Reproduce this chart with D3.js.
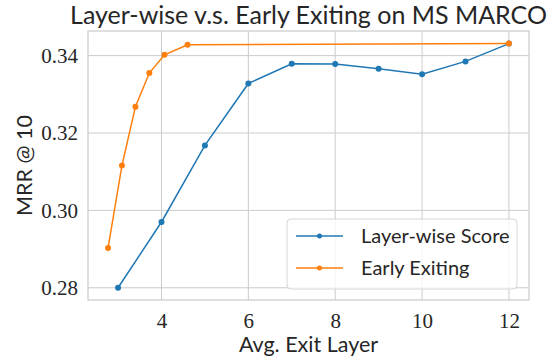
<!DOCTYPE html>
<html>
<head>
<meta charset="utf-8">
<script src="https://cdn.jsdelivr.net/npm/d3@7"></script>
<style>
  body { margin: 0; background: #fff; }
  svg { display: block; }
</style>
</head>
<body>
<div id="chart"></div>
<script>
// values
const layerX = [3, 4, 5, 6, 7, 8, 9, 10, 11, 12];
const layerY = [0.2800, 0.2970, 0.3168, 0.3328, 0.3379, 0.3378, 0.3366, 0.3352, 0.3385, 0.3431];
const exitX = [2.77, 3.09, 3.40, 3.72, 4.07, 4.60, 12.0];
const exitY = [0.2903, 0.3116, 0.3268, 0.3355, 0.3402, 0.3428, 0.3431];
const seriesNames = ['Layer-wise Score', 'Early Exiting'];
const xTicks = [4, 6, 8, 10, 12];
const yTicks = [0.28, 0.30, 0.32, 0.34];

const width = 559, height = 360;
const m = { left: 88, right: 30, top: 31, bottom: 60 };
const colors = ['#1f77b4', '#ff7f0e'];
const sans = 'Lato, "Open Sans", sans-serif';
const serif = '"Liberation Serif", "DejaVu Serif", serif';
const ink = '#262626';

const svg = d3.select('#chart').append('svg')
    .attr('width', width).attr('height', height);

const x = d3.scaleLinear().domain([2.308, 12.462]).range([m.left, width - m.right]);
const y = d3.scaleLinear().domain([0.27684, 0.34636]).range([height - m.bottom, m.top]);

// grid
const g = svg.append('g');
g.selectAll('.vx').data(xTicks).join('line')
    .attr('x1', d => x(d)).attr('x2', d => x(d))
    .attr('y1', m.top).attr('y2', height - m.bottom)
    .attr('stroke', '#cccccc').attr('stroke-width', 1);
g.selectAll('.hy').data(yTicks).join('line')
    .attr('x1', m.left).attr('x2', width - m.right)
    .attr('y1', d => y(d)).attr('y2', d => y(d))
    .attr('stroke', '#cccccc').attr('stroke-width', 1);

// frame
svg.append('rect')
    .attr('x', m.left).attr('y', m.top)
    .attr('width', width - m.left - m.right).attr('height', height - m.top - m.bottom)
    .attr('fill', 'none').attr('stroke', '#cccccc').attr('stroke-width', 1.25);

// tick labels
const xAxis = d3.axisBottom(x).tickValues(xTicks).tickSize(0).tickPadding(13).tickFormat(d3.format('d'));
const gx = svg.append('g').attr('transform', `translate(0,${height - m.bottom})`).call(xAxis);
gx.select('.domain').remove();
gx.attr('font-family', null).attr('font-size', null);
gx.selectAll('text').style('font-family', serif).style('font-size', '21px').style('fill', ink);

const yAxis = d3.axisLeft(y).tickValues(yTicks).tickSize(0).tickPadding(10).tickFormat(d3.format('.2f'));
const gy = svg.append('g').attr('transform', `translate(${m.left},0)`).call(yAxis);
gy.select('.domain').remove();
gy.attr('font-family', null).attr('font-size', null);
gy.selectAll('text').style('font-family', serif).style('font-size', '21px').style('fill', ink);

// lines
const series = [
  layerX.map((d, i) => [d, layerY[i]]),
  exitX.map((d, i) => [d, exitY[i]])
];
const line = d3.line().x(d => x(d[0])).y(d => y(d[1]));
series.forEach((s, i) => {
  svg.append('path').datum(s)
      .attr('d', line).attr('fill', 'none')
      .attr('stroke', colors[i]).attr('stroke-width', 1.5);
  svg.append('g').selectAll('circle').data(s).join('circle')
      .attr('cx', d => x(d[0])).attr('cy', d => y(d[1])).attr('r', 3)
      .attr('fill', colors[i]);
});

// title and labels
svg.append('text')
    .style('font-family', sans).style('fill', ink)
    .attr('x', (m.left + width - m.right) / 2).attr('y', 24)
    .attr('text-anchor', 'middle').attr('font-size', 25)
    .text('Layer-wise v.s. Early Exiting on MS MARCO');

svg.append('text')
    .style('font-family', sans).style('fill', ink)
    .attr('x', (m.left + width - m.right) / 2).attr('y', 352)
    .attr('text-anchor', 'middle').attr('font-size', 21.5)
    .text('Avg. Exit Layer');

svg.append('text')
    .style('font-family', sans).style('fill', ink)
    .attr('transform', `translate(32,${(m.top + height - m.bottom) / 2}) rotate(-90)`)
    .attr('text-anchor', 'middle').attr('font-size', 21.5)
    .text('MRR @ 10');

// legend
const lg = svg.append('g').attr('transform', 'translate(287,219)');
lg.append('rect').attr('width', 230).attr('height', 70).attr('rx', 4)
    .attr('fill', '#fff').attr('fill-opacity', 0.8)
    .attr('stroke', '#d6d6d6').attr('stroke-width', 1);
seriesNames.forEach((name, i) => {
  const cy = 17 + i * 32;
  lg.append('line').attr('x1', 9).attr('x2', 56).attr('y1', cy).attr('y2', cy)
      .attr('stroke', colors[i]).attr('stroke-width', 1.5);
  lg.append('circle').attr('cx', 32.5).attr('cy', cy).attr('r', 2.5).attr('fill', colors[i]);
  lg.append('text')
      .style('font-family', sans).style('fill', ink)
      .attr('x', 74).attr('y', cy + 7)
      .attr('font-size', 20).text(name);
});
</script>
</body>
</html>
